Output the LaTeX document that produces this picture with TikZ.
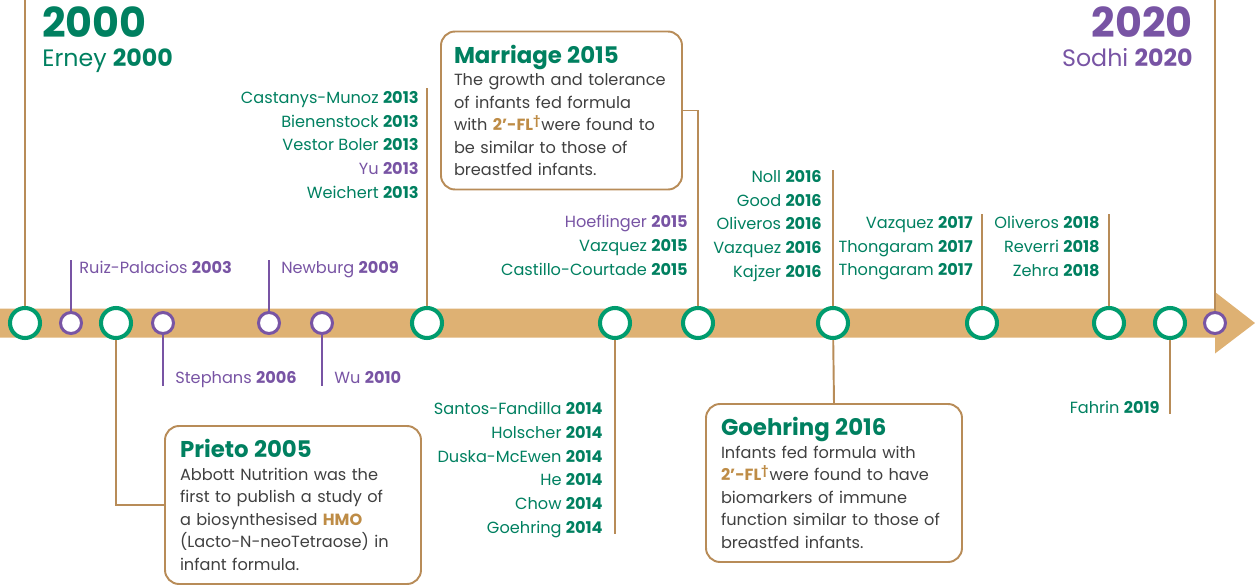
\documentclass[tikz,border=0pt]{standalone}
\usepackage{xcolor}
\usepackage{fontspec}
\setmainfont{Poppins}
\usepackage{tikz}
\usetikzlibrary{positioning,calc}
\definecolor{tlgreen}{RGB}{0,128,96}
\definecolor{ringgreen}{RGB}{0,156,110}
\definecolor{tlpurple}{RGB}{120,84,164}
\definecolor{bartan}{RGB}{222,177,115}
\definecolor{stemtan}{RGB}{184,140,88}
\definecolor{bodygray}{RGB}{64,64,64}
\definecolor{hilite}{RGB}{190,140,70}
\newcommand{\fl}{\textcolor{hilite}{\textbf{2’-FL}\textsuperscript{\textbf{†}}}}

\begin{document}
\begin{tikzpicture}[
  bigdot/.style={circle, draw=ringgreen, fill=white, line width=2.3pt,
                 minimum size=0.6cm, inner sep=0pt},
  smalldot/.style={circle, draw=tlpurple, fill=white, line width=1.7pt,
                   minimum size=0.42cm, inner sep=0pt},
  stem/.style={draw=stemtan, line width=1.1pt},
  pstem/.style={draw=tlpurple, line width=1.1pt},
  namelist/.style={align=right, inner sep=0pt, text=tlgreen,
                   font=\fontsize{9.2}{13.5}\selectfont},
  infobox/.style={draw=stemtan, fill=white, line width=1.1pt, rounded corners=8pt,
                  align=left, inner xsep=0.3cm, inner ysep=0pt, text=bodygray,
                  font=\fontsize{9.2}{12.8}\selectfont,
                  execute at begin node={\hyphenpenalty=10000\relax},
                  minimum height=3.16cm}]
  \useasboundingbox (0,-5.28) rectangle (25.1,6.46);

  \fill[bartan] (0,0.29) -- (24.3,0.29) -- (24.3,0.62) -- (25.1,0)
    -- (24.3,-0.61) -- (24.3,-0.29) -- (0,-0.29) -- cycle;

  \node[bigdot] (c2000) at (0.50,0) {};
  \node[smalldot] (c2003) at (1.42,0) {};
  \node[bigdot] (c2005) at (2.32,0) {};
  \node[smalldot] (c2006) at (3.26,0) {};
  \node[smalldot] (c2009) at (5.38,0) {};
  \node[smalldot] (c2010) at (6.44,0) {};
  \node[bigdot] (c2013) at (8.54,0) {};
  \node[bigdot] (c2014) at (12.30,0) {};
  \node[bigdot] (c2015) at (13.96,0) {};
  \node[bigdot] (c2016) at (16.66,0) {};
  \node[bigdot] (c2017) at (19.64,0) {};
  \node[bigdot] (c2018) at (22.18,0) {};
  \node[bigdot] (c2019) at (23.40,0) {};
  \node[smalldot] (c2020) at (24.30,0) {};

  \coordinate (t2000) at (0.50,6.46);
  \coordinate (t2003) at (1.42,1.26);
  \coordinate (t2006) at (3.26,-1.26);
  \coordinate (t2009) at (5.38,1.26);
  \coordinate (t2010) at (6.44,-1.26);
  \coordinate (t2013) at (8.54,4.70);
  \coordinate (t2014) at (12.30,-4.22);
  \coordinate (t2016) at (16.66,3.06);
  \coordinate (t2017) at (19.64,2.18);
  \coordinate (t2018) at (22.18,2.18);
  \coordinate (t2019) at (23.40,-1.82);
  \coordinate (t2020) at (24.30,6.46);

  \node[infobox, text width=4.52cm, minimum width=5.12cm] (prieto) at (5.86,-3.64)
    {{\fontsize{13}{16}\selectfont\bfseries\color{tlgreen}Prieto 2005}\\
     Abbott Nutrition was the\\first to publish a study of\\
     a biosynthesised \textcolor{hilite}{\textbf{HMO}}\\(Lacto-N-neoTetraose) in\\infant formula.};
  \node[infobox, text width=4.3cm, inner xsep=0.26cm, minimum width=4.82cm] (marriage) at (11.23,4.25)
    {{\fontsize{13}{16}\selectfont\bfseries\color{tlgreen}Marriage 2015}\\
     The growth and tolerance\\of infants fed formula\\
     with \fl were found to\\be similar to those of\\breastfed infants.};
  \node[infobox, text width=4.52cm, minimum width=5.12cm] (goehring) at (16.68,-3.20)
    {{\fontsize{13}{16}\selectfont\bfseries\color{tlgreen}Goehring 2016}\\
     Infants fed formula with\\\fl were found to have\\
     biomarkers of immune\\function similar to those of\\breastfed infants.};

  \draw[stem] (c2000) -- (t2000);
  \draw[pstem] (c2003) -- (t2003);
  \draw[stem] (c2005) |- (prieto.west);
  \draw[pstem] (c2006) -- (t2006);
  \draw[pstem] (c2009) -- (t2009);
  \draw[pstem] (c2010) -- (t2010);
  \draw[stem] (c2013) -- (t2013);
  \draw[stem] (c2014) -- (t2014);
  \draw[stem] (c2015) |- (marriage.east);
  \draw[stem] (c2016) -- (t2016);
  \draw[stem] (c2016) -- (goehring.north);
  \draw[stem] (c2017) -- (t2017);
  \draw[stem] (c2018) -- (t2018);
  \draw[stem] (c2019) -- (t2019);
  \draw[stem] (c2020) -- (t2020);

  \node[anchor=base west, inner sep=0pt, text=tlgreen, font=\fontsize{23.5}{26}\selectfont\bfseries]
    (y2000) at (0.84,5.72) {2000};
  \node[anchor=base west, inner sep=0pt, text=tlgreen, font=\fontsize{13.5}{15}\selectfont]
    (erney) at (0.84,5.14) {Erney \textbf{2000}};
  \node[anchor=base east, inner sep=0pt, text=tlpurple, font=\fontsize{23.5}{26}\selectfont\bfseries]
    (y2020) at (23.86,5.72) {2020};
  \node[anchor=base east, inner sep=0pt, text=tlpurple, font=\fontsize{13.5}{15}\selectfont]
    (sodhi) at (23.86,5.14) {Sodhi \textbf{2020}};

  \node[namelist, anchor=base west, text=tlpurple] (l2003) at (1.58,1.00) {Ruiz-Palacios \textbf{2003}};
  \node[namelist, anchor=base west, text=tlpurple] (l2009) at (5.62,1.00) {Newburg \textbf{2009}};
  \node[namelist, anchor=base west, text=tlpurple] (l2006) at (3.50,-1.20) {Stephans \textbf{2006}};
  \node[namelist, anchor=base west, text=tlpurple] (l2010) at (6.68,-1.20) {Wu \textbf{2010}};

  \node[namelist, anchor=north east] (l2013) at (8.38,4.64)
    {Castanys-Munoz \textbf{2013}\\Bienenstock \textbf{2013}\\Vestor Boler \textbf{2013}\\
     \textcolor{tlpurple}{Yu \textbf{2013}}\\Weichert \textbf{2013}};
  \node[namelist, anchor=north east] (l2014) at (12.06,-1.58)
    {Santos-Fandilla \textbf{2014}\\Holscher \textbf{2014}\\Duska-McEwen \textbf{2014}\\
     He \textbf{2014}\\Chow \textbf{2014}\\Goehring \textbf{2014}};
  \node[namelist, anchor=north east] (l2015) at (13.76,2.16)
    {\textcolor{tlpurple}{Hoeflinger \textbf{2015}}\\Vazquez \textbf{2015}\\Castillo-Courtade \textbf{2015}};
  \node[namelist, anchor=north east] (l2016) at (16.44,3.06)
    {Noll \textbf{2016}\\Good \textbf{2016}\\Oliveros \textbf{2016}\\Vazquez \textbf{2016}\\Kajzer \textbf{2016}};
  \node[namelist, anchor=north east] (l2017) at (19.46,2.14)
    {Vazquez \textbf{2017}\\Thongaram \textbf{2017}\\Thongaram \textbf{2017}};
  \node[namelist, anchor=north east] (l2018) at (22.00,2.14)
    {Oliveros \textbf{2018}\\Reverri \textbf{2018}\\Zehra \textbf{2018}};
  \node[namelist, anchor=base east] (l2019) at (23.20,-1.80) {Fahrin \textbf{2019}};
\end{tikzpicture}
\end{document}
